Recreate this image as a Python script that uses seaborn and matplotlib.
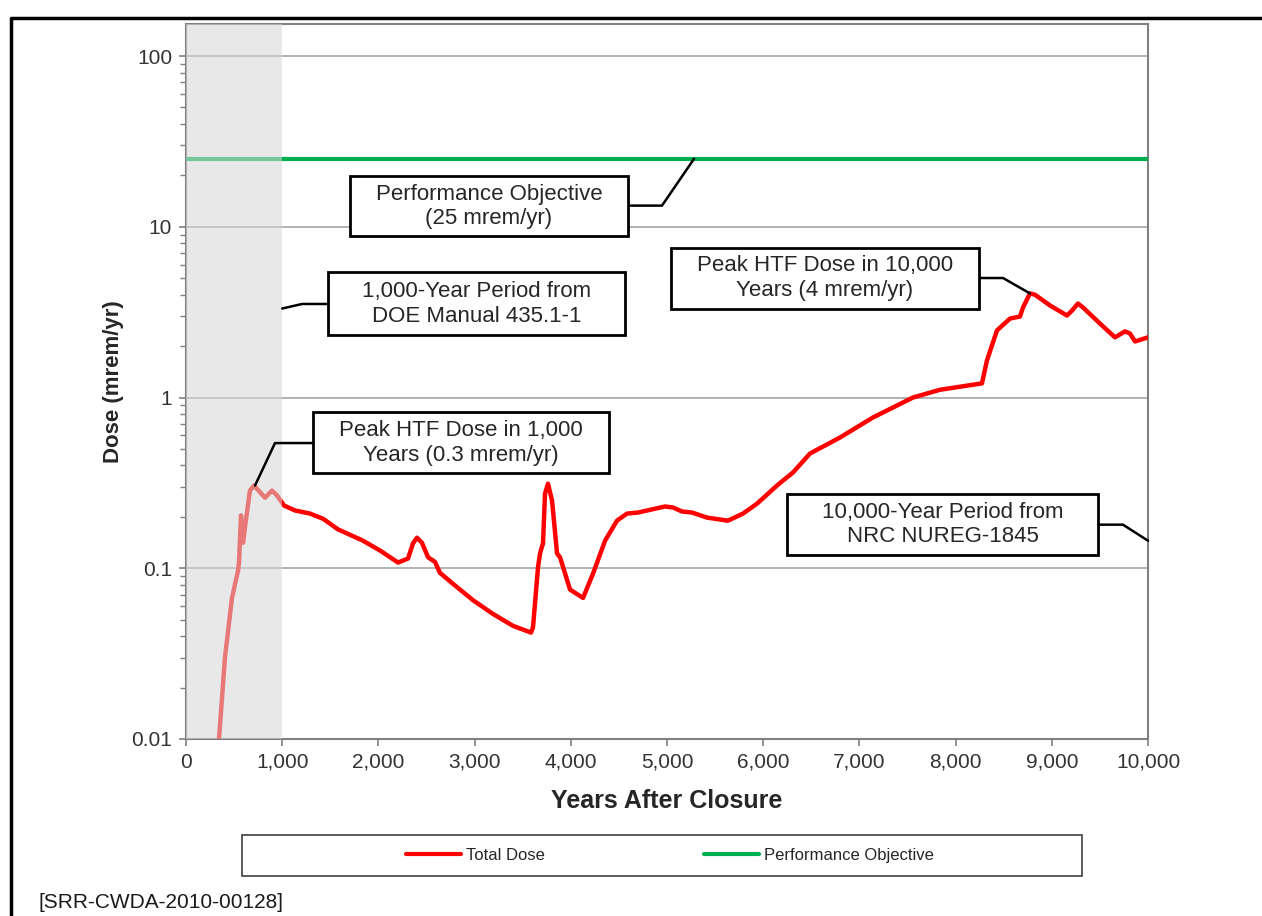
import numpy as np
import pandas as pd
import matplotlib
matplotlib.use('Agg')
import matplotlib.pyplot as plt
import matplotlib.ticker as mticker
from matplotlib.patches import Rectangle
from matplotlib.lines import Line2D
import seaborn as sns

# Total dose curve (years after closure, mrem/yr)
years = [343, 405, 478, 541, 551, 572, 593, 613, 665, 707, 821, 894, 946, 1019,
         1133, 1289, 1424, 1580, 1840, 2017, 2204, 2308, 2360, 2401, 2453, 2516,
         2588, 2640, 2776, 2983, 3191, 3399, 3586, 3607, 3659, 3680, 3711, 3732,
         3763, 3805, 3857, 3888, 3992, 4127, 4231, 4356, 4480, 4584, 4699, 4979,
         5062, 5156, 5260, 5416, 5634, 5790, 5936, 6143, 6310, 6487, 6798, 7141,
         7557, 7838, 8274, 8326, 8430, 8565, 8669, 8701, 8773, 8825, 8981, 9158,
         9210, 9272, 9324, 9501, 9657, 9761, 9813, 9865, 10000]
dose = [0.010, 0.030, 0.067, 0.097, 0.108, 0.204, 0.141, 0.174, 0.285, 0.305,
        0.259, 0.285, 0.267, 0.233, 0.218, 0.209, 0.195, 0.169, 0.145, 0.127,
        0.108, 0.114, 0.140, 0.151, 0.141, 0.116, 0.109, 0.094, 0.081, 0.065,
        0.054, 0.046, 0.042, 0.045, 0.101, 0.122, 0.140, 0.274, 0.313, 0.249,
        0.122, 0.116, 0.075, 0.067, 0.093, 0.145, 0.190, 0.209, 0.212, 0.230,
        0.227, 0.215, 0.212, 0.198, 0.190, 0.209, 0.239, 0.305, 0.364, 0.470,
        0.583, 0.764, 1.00, 1.11, 1.21, 1.65, 2.47, 2.90, 2.98, 3.37, 4.07, 4.00,
        3.46, 3.02, 3.23, 3.55, 3.37, 2.71, 2.25, 2.44, 2.37, 2.13, 2.25]
objective = 25
period_end = 1000

# callouts: text, box (x0, x1, y0, y1), elbow point, target point
callouts = [
    ("Performance Objective\n(25 mrem/yr)", (1705, 4594, 8.78, 19.7), (4948, 13.3), (5281, 25)),
    ("1,000-Year Period from\nDOE Manual 435.1-1", (1476, 4563, 2.31, 5.40), (1206, 3.53), (1000, 3.32)),
    ("Peak HTF Dose in 1,000\nYears (0.3 mrem/yr)", (1320, 4397, 0.359, 0.817), (925, 0.541), (717, 0.305)),
    ("Peak HTF Dose in 10,000\nYears (4 mrem/yr)", (5042, 8243, 3.32, 7.56), (8493, 5.01), (8773, 4.07)),
    ("10,000-Year Period from\nNRC NUREG-1845", (6247, 9480, 0.119, 0.274), (9740, 0.180), (10000, 0.145)),
]

sns.set_style('white')
plt.rcParams['font.family'] = ['Liberation Sans', 'DejaVu Sans']

df = pd.DataFrame({'year': years, 'dose': dose})

fig = plt.figure(figsize=(12.62, 9.16), dpi=100)
ax = fig.add_axes([186 / 1262, 1 - 739 / 916, 962 / 1262, 715 / 916])

sns.lineplot(data=df, x='year', y='dose', color='#ff0000', lw=3.2, ax=ax, zorder=3)
ax.axhline(objective, color='#00b050', lw=3, zorder=3)

# grey shaded 1,000-year period drawn over the lines
ax.axvspan(0, period_end, color='#d6d6d6', alpha=0.56, lw=0, zorder=4)

ax.set_yscale('log')
ax.set_xlim(0, 10000)
ax.set_ylim(0.01, 154)
ax.yaxis.set_major_locator(mticker.LogLocator(base=10, numticks=10))
ax.yaxis.set_minor_locator(mticker.LogLocator(base=10, subs=np.arange(2, 10), numticks=20))
ax.yaxis.set_major_formatter(mticker.FuncFormatter(lambda v, p: f'{v:g}'))
ax.yaxis.set_minor_formatter(mticker.NullFormatter())
ax.xaxis.set_major_locator(mticker.MultipleLocator(1000))
ax.xaxis.set_major_formatter(mticker.FuncFormatter(lambda v, p: f'{int(v):,}'))

ax.grid(axis='y', which='major', color='#a6a6a6', lw=1.2, zorder=1)
ax.set_axisbelow(True)
for s in ax.spines.values():
    s.set_color('#808080')
    s.set_linewidth(1.5)
ax.tick_params(axis='both', which='major', direction='out', length=5, width=1.2,
               color='#808080', labelsize=15, labelcolor='#333333', pad=5)
ax.tick_params(axis='y', which='minor', direction='out', length=4, width=1,
               color='#808080', left=True)
ax.tick_params(axis='x', bottom=True)
ax.tick_params(axis='y', which='major', left=True)

ax.set_xlabel('Years After Closure', fontsize=18, fontweight='bold', labelpad=12)
ax.set_ylabel('Dose (mrem/yr)', fontsize=16, fontweight='bold', labelpad=5)

for text, (x0, x1, y0, y1), elbow, target in callouts:
    ax.add_patch(Rectangle((x0, y0), x1 - x0, y1 - y0, facecolor='white',
                           edgecolor='black', lw=2, zorder=6))
    ax.text((x0 + x1) / 2, np.sqrt(y0 * y1), text, ha='center', va='center',
            fontsize=16, color='#262626', linespacing=1.2, zorder=7)
    edge = x0 if elbow[0] < x0 else x1
    ax.plot([edge, elbow[0], target[0]], [elbow[1], elbow[1], target[1]],
            color='black', lw=1.8, zorder=5, clip_on=False)

# legend box below the plot
fig.patches.append(Rectangle((242 / 1262, 1 - 876 / 916), 840 / 1262, 41 / 916,
                             transform=fig.transFigure, facecolor='white',
                             edgecolor='#404040', lw=1.2))
handles = [Line2D([], [], color='#ff0000', lw=3), Line2D([], [], color='#00b050', lw=3)]
fig.legend(handles, ['Total Dose', 'Performance Objective'], loc='center',
           bbox_to_anchor=(670 / 1262, 1 - 855.5 / 916), ncol=2, frameon=False,
           fontsize=12, handlelength=3.3, handletextpad=0.3, columnspacing=9.5)

fig.text(38 / 1262, 1 - 902 / 916, '[SRR-CWDA-2010-00128]', fontsize=15,
         va='center', ha='left', color='#1a1a1a')

# outer frame (left and top edges visible)
fig.lines.append(Line2D([11 / 1262, 11 / 1262, 1.0], [0.0, 1 - 18 / 916, 1 - 18 / 916],
                        transform=fig.transFigure, color='black', lw=2.5))

fig.savefig('out.png', dpi=100)
